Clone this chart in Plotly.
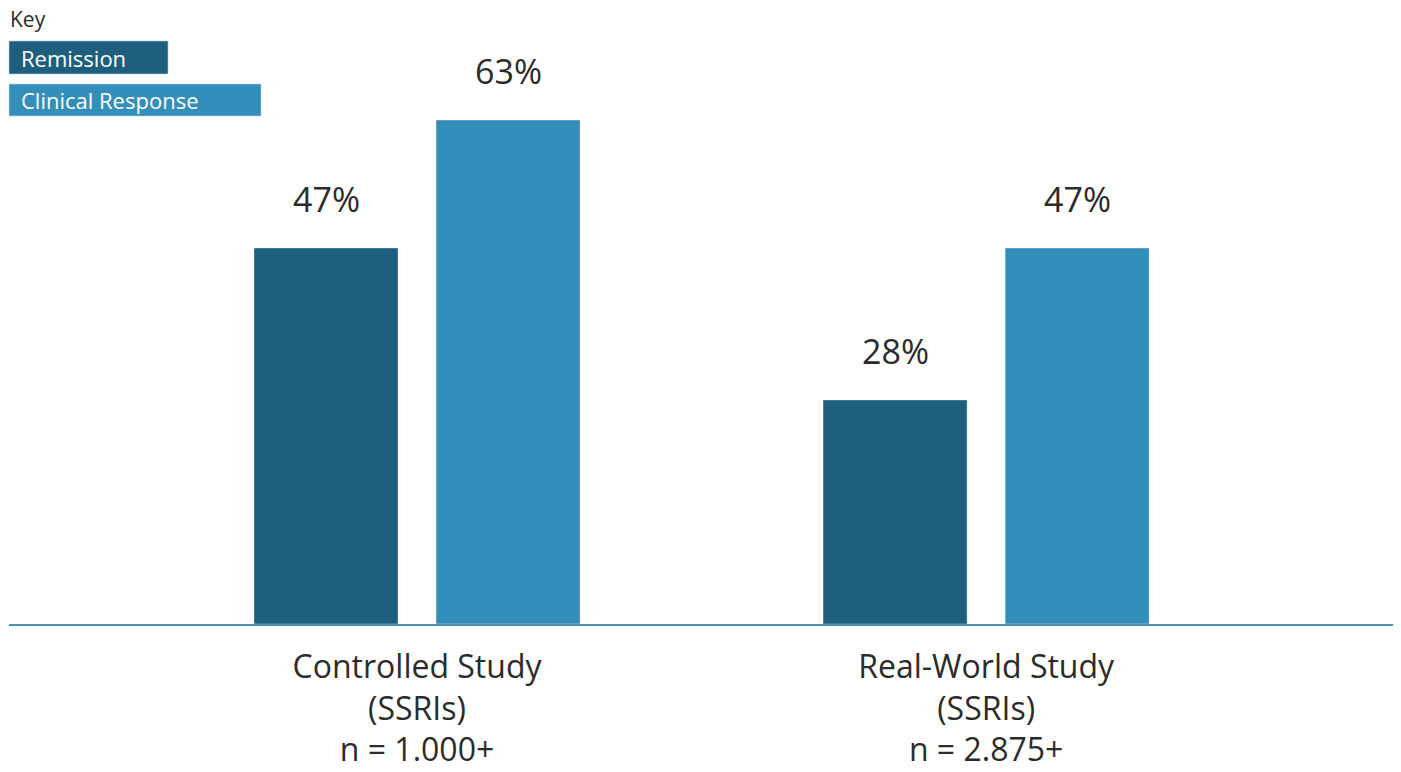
import plotly.graph_objects as go

categories = ["Controlled Study<br>(SSRIs)<br>n = 1.000+", "Real-World Study<br>(SSRIs)<br>n = 2.875+"]
series_names = ["Remission", "Clinical Response"]
remission = [47, 28]
clinical_response = [63, 47]
colors = ["#1f5f7e", "#348eba"]

FONT = "Open Sans"
TEXT_COLOR = "#2b2b2b"

W, H = 1401, 772
ML, MR, MT, MB = 9, 8, 0, 148
PW, PH = W - ML - MR, H - MT - MB

def px_x(p):
    return (p - ML) / PW

def px_y(p):
    return (H - MB - p) / PH

x_pos = list(range(len(categories)))

fig = go.Figure()
for name, vals, col in zip(series_names, [remission, clinical_response], colors):
    fig.add_trace(go.Bar(
        x=x_pos, y=vals, name=name,
        marker=dict(color=col, line=dict(color="rgba(255,255,255,0.35)", width=1)),
        showlegend=False, hoverinfo="skip",
    ))

# value labels above bars
bar_offset_px = 91  # half distance between bar centers in a group
for vals, sign in zip([remission, clinical_response], [-1, 1]):
    for xi, v in zip(x_pos, vals):
        fig.add_annotation(
            x=xi, y=v, xref="x", yref="y", text=f"{v}%", showarrow=False,
            xshift=sign * bar_offset_px, yanchor="bottom", yshift=24,
            font=dict(family=FONT, size=34, color=TEXT_COLOR),
        )

# custom key
fig.add_annotation(xref="paper", yref="paper", x=px_x(8), y=px_y(19), xanchor="left", yanchor="middle",
                   text="Key", showarrow=False, font=dict(family=FONT, size=21, color=TEXT_COLOR))
key_boxes = [(41, 74, 168), (84, 116, 261)]
for name, col, (y0, y1, x1) in zip(series_names, colors, key_boxes):
    fig.add_shape(type="rect", xref="paper", yref="paper",
                  x0=px_x(9), x1=px_x(x1), y0=px_y(y1), y1=px_y(y0),
                  fillcolor=col, line=dict(color="rgba(180,210,230,0.6)", width=1), layer="above")
    fig.add_annotation(xref="paper", yref="paper", x=px_x(19), y=px_y((y0 + y1) / 2),
                       xanchor="left", yanchor="middle", text=name, showarrow=False,
                       font=dict(family=FONT, size=22, color="white"))

fig.update_layout(
    width=W, height=H,
    margin=dict(l=ML, r=MR, t=MT, b=MB, autoexpand=False),
    plot_bgcolor="white", paper_bgcolor="white",
    barmode="group", bargap=0.36, bargroupgap=0.209,
    font=dict(family=FONT, color=TEXT_COLOR),
    xaxis=dict(range=[-0.717, 1.715], tickvals=x_pos, ticktext=categories,
               showgrid=False, zeroline=False, showline=True, linecolor="#4a8fb2", linewidth=1.5,
               ticks="", ticklabelstandoff=14, automargin=False,
               tickfont=dict(family=FONT, size=32, color=TEXT_COLOR), fixedrange=True),
    yaxis=dict(range=[0, 78], visible=False, fixedrange=True, automargin=False),
)

fig.write_html("out.html", config={"displayModeBar": False})
